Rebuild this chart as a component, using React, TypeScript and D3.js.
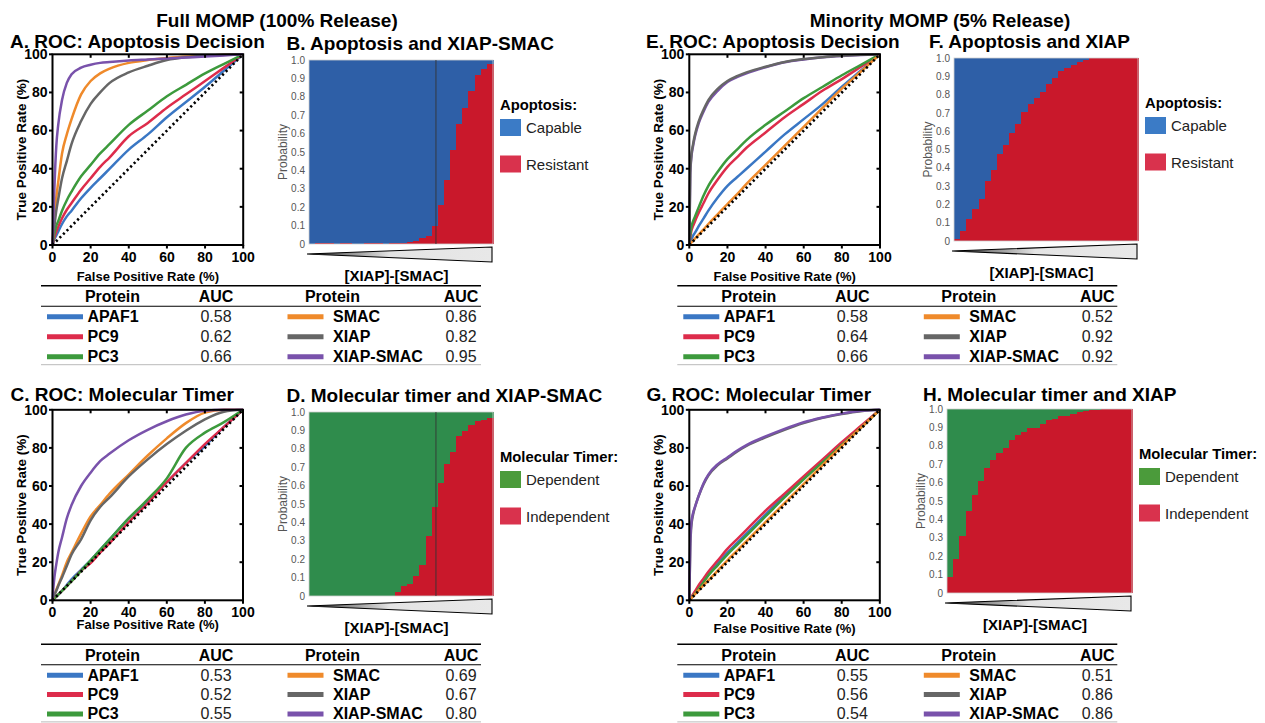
import React from 'react';
import * as d3 from 'd3';

const FONT = '"Liberation Sans", Arial, Helvetica, sans-serif';

// ROC data: proteins, colours, shared FPR grid (%), TPR (%) per protein
const PROTEINS = ['APAF1', 'PC9', 'PC3', 'SMAC', 'XIAP', 'XIAP-SMAC'];
const LINE_COLORS = ['#3a77c4', '#dd2c4b', '#3c9a3c', '#ef8a2b', '#666666', '#7952ab'];
const AXIS_TICKS = [0, 20, 40, 60, 80, 100];
const FPR = [0, 0.5, 1, 2, 3, 5, 7.5, 10, 15, 20, 25, 30, 40, 50, 60, 70, 80, 90, 100];

const TPR_A = [
  [0, 1.5, 3, 5, 7, 11, 15, 18, 24.5, 30, 35, 40, 50, 58, 67, 75, 83, 91.5, 100],
  [0, 2, 4, 7, 9.5, 14, 18.5, 22, 29, 35, 41, 46, 57, 64, 72, 79, 86, 93, 100],
  [0, 3, 6, 10, 12.5, 18, 23.5, 28, 36, 42, 48, 53, 63, 70.5, 78, 84, 90, 95, 100],
  [0, 8, 15, 25, 33, 48, 58, 66, 79, 86, 90, 92.5, 95.5, 97, 98, 98.8, 99.3, 99.7, 100],
  [0, 6, 10, 18, 24, 35, 44, 53, 65, 74, 80, 85, 90.5, 94, 97, 98.5, 99.3, 99.7, 100],
  [0, 15, 30, 52, 63, 76, 85, 89.5, 93, 94.5, 95.5, 96, 96.8, 97.3, 97.8, 98.3, 98.8, 99.4, 100],
];
const TPR_C = [
  [0, 0.5, 1, 2, 3, 5, 8, 11, 16, 21, 26.5, 32, 43, 52, 62, 72, 81, 91, 100],
  [0, 0.5, 1, 2, 3, 5, 7.5, 10, 15.5, 19.5, 25, 30, 41, 51, 62, 72, 82, 91, 100],
  [0, 0.5, 1, 2, 3, 5, 7.5, 10, 15.5, 21, 26.5, 32, 43, 53, 64, 80, 88, 93.5, 100],
  [0, 1.5, 3, 5.5, 8, 13, 20, 25, 35, 44, 50, 56, 66, 76, 85, 93, 98.5, 100, 100],
  [0, 1.5, 2.8, 5, 7.5, 12, 18, 24, 32, 42, 49, 54, 65, 74, 82, 89, 95, 99, 100],
  [0, 7, 12, 19, 25, 33, 43, 50, 60, 67, 73, 77, 84, 89.5, 94, 97.5, 99.5, 100, 100],
];
const TPR_E = [
  [0, 1.5, 2.5, 5, 6.5, 10, 14, 18, 25, 31, 35.5, 40, 49, 58, 66, 74, 83, 91.5, 100],
  [0, 4, 7, 10, 12.5, 17, 22, 27, 34.5, 41, 46, 51, 59, 67, 74, 81, 87, 93.5, 100],
  [0, 5, 9, 12.5, 15, 20, 26, 31, 38.5, 45, 50, 55, 63, 70, 77, 83, 89, 94.5, 100],
  [0, 0.6, 1.2, 2.3, 3.4, 5.6, 8.2, 11, 16.2, 21.5, 26.5, 32, 42, 52, 62, 72, 82, 91, 100],
  [0, 38, 46, 53, 58, 65, 71, 76, 82, 86, 88.5, 90.5, 93.5, 96, 97.5, 98.5, 99.2, 99.7, 100],
  [0, 37, 45, 52, 57, 64, 70, 75, 81, 85.5, 88, 90, 93.2, 95.8, 97.3, 98.4, 99.1, 99.6, 100],
];
const TPR_G = [
  [0, 0.7, 1.4, 2.8, 4.2, 7, 10.5, 14, 19.5, 25, 30, 35, 45, 55, 64, 73, 82, 91, 100],
  [0, 0.8, 1.6, 3.2, 4.8, 8, 11.5, 15, 21, 27, 32, 37, 47, 56, 65, 74, 83, 91.5, 100],
  [0, 0.6, 1.2, 2.4, 3.6, 6, 9.5, 13, 18.5, 24, 29, 34, 44, 54, 63.5, 72.5, 81.5, 90.5, 100],
  [0, 0.5, 1, 2.1, 3.2, 5.3, 8, 10.5, 15.7, 21, 26, 31, 41, 51, 61, 71, 81, 90.5, 100],
  [0, 28, 38, 45, 49, 55, 61, 65.5, 71, 74.5, 78, 81, 85.5, 89.5, 93, 95.8, 97.8, 99.3, 100],
  [0, 30, 40, 46, 49, 55, 61.5, 66, 71.5, 75, 78.5, 81.5, 86, 90, 93.5, 96, 98, 99.5, 100],
];

const AUC_A = ['0.58', '0.62', '0.66', '0.86', '0.82', '0.95'];
const AUC_C = ['0.53', '0.52', '0.55', '0.69', '0.67', '0.80'];
const AUC_E = ['0.58', '0.64', '0.66', '0.52', '0.92', '0.92'];
const AUC_G = ['0.55', '0.56', '0.54', '0.51', '0.86', '0.86'];

// probability panels: 30 bins along [XIAP]-[SMAC], fraction in the lower (red) class
const PROB_TICKS = [0, 0.1, 0.2, 0.3, 0.4, 0.5, 0.6, 0.7, 0.8, 0.9, 1.0];
const PROB_B = [0.002, 0.003, 0.004, 0.003, 0.002, 0.003, 0.003, 0.002, 0.002, 0.003, 0.004, 0.003, 0.002, 0.003, 0.005, 0.006,
  0.01, 0.015, 0.03, 0.045, 0.1, 0.21, 0.35, 0.51, 0.65, 0.74, 0.83, 0.92, 0.95, 0.98];
const PROB_D = [0, 0, 0, 0, 0, 0, 0, 0, 0, 0, 0, 0, 0, 0,
  0.022, 0.053, 0.067, 0.11, 0.167, 0.327, 0.485, 0.613, 0.72, 0.78, 0.867, 0.895, 0.927, 0.95, 0.958, 0.967];
const PROB_F = [0.013, 0.055, 0.118, 0.173, 0.227, 0.327, 0.387, 0.473, 0.524, 0.59, 0.642, 0.704, 0.747, 0.78, 0.815,
  0.86, 0.893, 0.93, 0.945, 0.964, 0.978, 0.99, 0.998, 1, 1, 1, 1, 1, 1, 1];
const PROB_H = [0.087, 0.187, 0.31, 0.445, 0.535, 0.61, 0.68, 0.725, 0.76, 0.79, 0.83, 0.856, 0.876, 0.896, 0.896,
  0.92, 0.938, 0.947, 0.964, 0.96, 0.973, 0.984, 0.987, 0.993, 0.996, 1, 1, 1, 1, 1];
const MARKER_BIN = 20.7;

const APOPTOSIS_LABELS = ['Capable', 'Resistant'];
const TIMER_LABELS = ['Dependent', 'Independent'];

const BLUE = '#2e5fa7';
const RED = '#c9182b';
const GREEN = '#2f8c4c';
const SW_BLUE = '#3b7bc6';
const SW_RED = '#d9324d';
const SW_GREEN = '#4b9b3b';

function RocPanel({ left, top, size, title, titleX, titleY, tpr, order, xTitleGap }: any) {
  const x = d3.scaleLinear().domain([0, 100]).range([left, left + size]);
  const y = d3.scaleLinear().domain([0, 100]).range([top + size, top]);
  const line = d3
    .line<number>()
    .x((_, i) => x(FPR[i]))
    .y((d) => y(d))
    .curve(d3.curveMonotoneX);
  const inner = AXIS_TICKS.filter((t) => t > 0 && t < 100);
  const bottom = top + size;
  return (
    <g fontFamily={FONT}>
      <text x={titleX} y={titleY} fontSize={19} fontWeight="bold">{title}</text>
      {order.map((k: number) => (
        <path key={k} d={line(tpr[k]) || ''} fill="none" stroke={LINE_COLORS[k]} strokeWidth={2.5} />
      ))}
      <line x1={x(0)} y1={y(0)} x2={x(100)} y2={y(100)} stroke="#000" strokeWidth={2.6} strokeDasharray="2.2 2.8" />
      <rect x={left} y={top} width={size} height={size} fill="none" stroke="#000" strokeWidth={2} />
      {AXIS_TICKS.map((t) => (
        <g key={'t' + t}>
          <line x1={left - 3.5} x2={left} y1={y(t)} y2={y(t)} stroke="#000" strokeWidth={2} />
          <line x1={x(t)} x2={x(t)} y1={bottom} y2={bottom + 3.5} stroke="#000" strokeWidth={2} />
          <text x={left - 5} y={y(t) + 4.8} fontSize={14} fontWeight="bold" textAnchor="end">{t}</text>
          <text x={x(t)} y={bottom + 16.5} fontSize={14} fontWeight="bold" textAnchor="middle">{t}</text>
        </g>
      ))}
      {inner.map((t) => (
        <g key={'i' + t}>
          <line x1={left + size - 3.5} x2={left + size} y1={y(t)} y2={y(t)} stroke="#000" strokeWidth={2} />
          <line x1={x(t)} x2={x(t)} y1={top} y2={top + 3.5} stroke="#000" strokeWidth={2} />
        </g>
      ))}
      <text x={left + size / 2} y={bottom + xTitleGap} fontSize={13} fontWeight="bold" textAnchor="middle">
        False Positive Rate (%)
      </text>
      <text
        transform={`translate(${left - 26.5},${top + size / 2}) rotate(-90)`}
        fontSize={13.5}
        fontWeight="bold"
        textAnchor="middle"
      >
        True Positive Rate (%)
      </text>
    </g>
  );
}

function ProbPanel({ id, left, top, width, height, title, titleX, titleY, values, topColor, swatch, legendTitle, labels, marker }: any) {
  const bins = d3.range(values.length);
  const x = d3.scaleBand<number>().domain(bins).range([left, left + width]);
  const xb = d3.scaleLinear().domain([0, values.length]).range([left, left + width]);
  const y = d3.scaleLinear().domain([0, 1]).range([top + height, top]);
  const bottom = top + height;
  const tri = `M${left - 2},${bottom + 10} L${left + width - 1},${bottom + 3} L${left + width - 1},${bottom + 18} Z`;
  const lx = left + width + 7;
  return (
    <g fontFamily={FONT}>
      <defs>
        <linearGradient id={id} x1="0" x2="1" y1="0" y2="0">
          <stop offset="0" stopColor="#000" />
          <stop offset="0.12" stopColor="#666" />
          <stop offset="0.45" stopColor="#e4e4e4" />
          <stop offset="1" stopColor="#e8e8e8" />
        </linearGradient>
      </defs>
      <text x={titleX} y={titleY} fontSize={19} fontWeight="bold">{title}</text>
      <g shapeRendering="crispEdges">
        {bins.map((i) => (
          <g key={i}>
            <rect x={x(i)} y={y(1)} width={x.bandwidth() + 0.6} height={y(values[i]) - y(1)} fill={topColor} />
            <rect x={x(i)} y={y(values[i])} width={x.bandwidth() + 0.6} height={y(0) - y(values[i])} fill={RED} />
          </g>
        ))}
      </g>
      <rect x={left} y={top} width={width} height={height} fill="none" stroke="#cfcfcf" strokeWidth={0.8} />
      {marker != null && (
        <line x1={xb(marker)} x2={xb(marker)} y1={top} y2={bottom} stroke="#333" strokeWidth={0.9} />
      )}
      {PROB_TICKS.map((t) => (
        <text key={t} x={left - 4} y={y(t) + 3.6} fontSize={10} fill="#555" textAnchor="end">
          {t === 0 ? '0' : t.toFixed(1)}
        </text>
      ))}
      <text
        transform={`translate(${left - 22},${top + height / 2}) rotate(-90)`}
        fontSize={12}
        fill="#555"
        textAnchor="middle"
      >
        Probability
      </text>
      <path d={tri} fill={`url(#${id})`} stroke="#000" strokeWidth={1.1} />
      <text x={left + width / 2 - 4.5} y={bottom + 36.5} fontSize={15} fontWeight="bold" textAnchor="middle">
        [XIAP]-[SMAC]
      </text>
      <text x={lx} y={top + 49.5} fontSize={14.8} fontWeight="bold">{legendTitle}</text>
      <rect x={lx} y={top + 59} width={21} height={17} fill={swatch} />
      <text x={lx + 26} y={top + 73.3} fontSize={15} fill="#222">{labels[0]}</text>
      <rect x={lx} y={top + 95.5} width={21} height={17} fill={SW_RED} />
      <text x={lx + 26} y={top + 109.5} fontSize={15} fill="#222">{labels[1]}</text>
    </g>
  );
}

function AucTable({ left, top, gap, auc }: any) {
  const rowY = (i: number) => top + 36.5 + i * gap;
  const cols = [
    { sw: 6, name: 46.5, hdr: 71.5, auc: 175 },
    { sw: 246.5, name: 292, hdr: 291.5, auc: 420 },
  ];
  return (
    <g fontFamily={FONT}>
      <line x1={left} x2={left + 440} y1={top} y2={top} stroke="#000" strokeWidth={1.4} />
      <line x1={left} x2={left + 440} y1={top + 20.5} y2={top + 20.5} stroke="#000" strokeWidth={1.1} />
      <line x1={left} x2={left + 440} y1={rowY(2) + 2.5} y2={rowY(2) + 2.5} stroke="#bbb" strokeWidth={1} />
      {cols.map((c, ci) => (
        <g key={ci}>
          <text x={left + c.hdr} y={top + 16.5} fontSize={16} fontWeight="bold" textAnchor="middle">Protein</text>
          <text x={left + c.auc} y={top + 16.5} fontSize={16} fontWeight="bold" textAnchor="middle">AUC</text>
          {[0, 1, 2].map((r) => {
            const k = ci * 3 + r;
            return (
              <g key={k}>
                <line x1={left + c.sw} x2={left + c.sw + 36} y1={rowY(r) - 5.5} y2={rowY(r) - 5.5} stroke={LINE_COLORS[k]} strokeWidth={5} />
                <text x={left + c.name} y={rowY(r)} fontSize={16} fontWeight="bold">{PROTEINS[k]}</text>
                <text x={left + c.auc} y={rowY(r)} fontSize={16} textAnchor="middle" fill="#222">{auc[k]}</text>
              </g>
            );
          })}
        </g>
      ))}
    </g>
  );
}

export default function App() {
  const base = [0, 1, 2, 3, 4, 5];
  const orderE = [0, 1, 2, 3, 5, 4];
  return (
    <svg width={1265} height={723} style={{ position: 'absolute', left: 0, top: 0, background: '#fff' }}>
      <text x={277} y={27} fontFamily={FONT} fontSize={19} fontWeight="bold" textAnchor="middle">Full MOMP (100% Release)</text>
      <text x={940} y={27} fontFamily={FONT} fontSize={19} fontWeight="bold" textAnchor="middle">Minority MOMP (5% Release)</text>

      <RocPanel left={52.5} top={54.3} size={190.7} title="A. ROC: Apoptosis Decision" titleX={10} titleY={48} tpr={TPR_A} order={base} xTitleGap={36} />
      <RocPanel left={52.5} top={409.8} size={190.5} title="C. ROC: Molecular Timer" titleX={10.5} titleY={400.5} tpr={TPR_C} order={base} xTitleGap={28.5} />
      <RocPanel left={689.3} top={54.3} size={190.7} title="E. ROC: Apoptosis Decision" titleX={646} titleY={48} tpr={TPR_E} order={orderE} xTitleGap={36} />
      <RocPanel left={689.3} top={409.8} size={190.5} title="G. ROC: Molecular Timer" titleX={646.5} titleY={400.5} tpr={TPR_G} order={base} xTitleGap={33} />

      <ProbPanel id="gb" left={309} top={60} width={184} height={184} title="B. Apoptosis and XIAP-SMAC" titleX={286.5} titleY={49.5}
        values={PROB_B} topColor={BLUE} swatch={SW_BLUE} legendTitle="Apoptosis:" labels={APOPTOSIS_LABELS} marker={MARKER_BIN} />
      <ProbPanel id="gd" left={309} top={412} width={184} height={184} title="D. Molecular timer and XIAP-SMAC" titleX={286.5} titleY={401.5}
        values={PROB_D} topColor={GREEN} swatch={SW_GREEN} legendTitle="Molecular Timer:" labels={TIMER_LABELS} marker={MARKER_BIN} />
      <ProbPanel id="gf" left={954} top={58} width={184} height={183} title="F. Apoptosis and XIAP" titleX={929} titleY={48.3}
        values={PROB_F} topColor={BLUE} swatch={SW_BLUE} legendTitle="Apoptosis:" labels={APOPTOSIS_LABELS} />
      <ProbPanel id="gh" left={947} top={409} width={185} height={184} title="H. Molecular timer and XIAP" titleX={923} titleY={400.7}
        values={PROB_H} topColor={GREEN} swatch={SW_GREEN} legendTitle="Molecular Timer:" labels={TIMER_LABELS} />

      <AucTable left={41} top={285.7} gap={20} auc={AUC_A} />
      <AucTable left={41} top={644.3} gap={19.3} auc={AUC_C} />
      <AucTable left={677.3} top={285.7} gap={20} auc={AUC_E} />
      <AucTable left={677.3} top={644.3} gap={19.3} auc={AUC_G} />
    </svg>
  );
}
